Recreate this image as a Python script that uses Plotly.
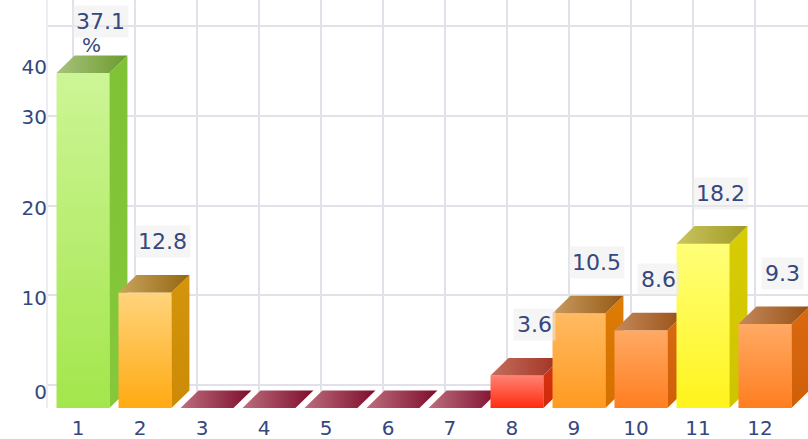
import plotly.graph_objects as go

# ---------------- data ----------------
categories = [1, 2, 3, 4, 5, 6, 7, 8, 9, 10, 11, 12]
cat_labels = ["1", "2", "3", "4", "5", "6", "7", "8", "9", "10", "11", "12"]
values = [37.1, 12.8, 0, 0, 0, 0, 0, 3.6, 10.5, 8.6, 18.2, 9.3]
value_labels = ["37.1", "12.8", "", "", "", "", "", "3.6", "10.5", "8.6", "18.2", "9.3"]
value_units = ["%", "", "", "", "", "", "", "", "", "", "", ""]
y_tick_labels = ["0", "10", "20", "30", "40"]
y_grid_vals = [0, 10, 20, 30, 40]

# ---------------- style ----------------
# (front top, front bottom, side top, side bottom, top-face left, top-face right)
palette = {
    "green":  ("#cdf596", "#a3e64c", "#7fc236", "#86c83c", "#a8c27c", "#6c9b2e"),
    "amber":  ("#ffd47c", "#ffaa12", "#d4940c", "#cc8a06", "#caa45e", "#94660f"),
    "maroon": ("#b86878", "#7e0c2c", "#7e0c2c", "#7e0c2c", "#bc6e7e", "#7e0c2c"),
    "red":    ("#ff8272", "#ff2c10", "#d83412", "#cc2a0a", "#c46e5e", "#a03020"),
    "orange": ("#ffba62", "#ff9a20", "#de7c04", "#d47000", "#c89c60", "#965812"),
    "orange2":("#ffaa64", "#ff7e20", "#da6a10", "#d06008", "#c4895c", "#985012"),
    "yellow": ("#ffff78", "#fff41c", "#d8cc04", "#cec400", "#cac464", "#a09a20"),
}
bar_colors = ["green", "amber", "maroon", "maroon", "maroon", "maroon", "maroon",
              "red", "orange", "orange2", "yellow", "orange2"]

TEXT_COLOR = "#34477f"
GRID_COLOR = "#e1e1ea"
FONT = "DejaVu Sans"

HALF_W = 0.427      # half bar width (category units)
DEPTH_X = 0.29      # 3D depth offset in category units
DEPTH_Y = 1.94      # 3D depth offset in value units

fig = go.Figure()


def face(xs, ys, c_lo, c_hi, orient):
    return go.Scatter(
        x=xs + [xs[0]], y=ys + [ys[0]], mode="lines", fill="toself",
        line=dict(width=0, color=c_hi),
        fillgradient=dict(type=orient, colorscale=[[0, c_lo], [1, c_hi]]),
        hoverinfo="skip", showlegend=False,
    )


for c, v, cname in zip(categories, values, bar_colors):
    ft, fb, st, sb, tl, tr = palette[cname]
    x0, x1 = c - HALF_W, c + HALF_W
    if v > 0:
        fig.add_trace(face([x0, x1, x1, x0], [0, 0, v, v], fb, ft, "vertical"))
        fig.add_trace(face([x1, x1 + DEPTH_X, x1 + DEPTH_X, x1],
                           [0, DEPTH_Y, v + DEPTH_Y, v], sb, st, "vertical"))
    fig.add_trace(face([x0, x1, x1 + DEPTH_X, x0 + DEPTH_X],
                       [v, v, v + DEPTH_Y, v + DEPTH_Y], tl, tr, "horizontal"))

# dummy traces to activate the back-wall and label axes
fig.add_trace(go.Scatter(x=[None], y=[None], xaxis="x2", yaxis="y2",
                         showlegend=False, hoverinfo="skip"))
fig.add_trace(go.Scatter(x=[None], y=[None], xaxis="x", yaxis="y3",
                         showlegend=False, hoverinfo="skip"))

# data labels
for c, v, lab, unit in zip(categories, values, value_labels, value_units):
    if not lab:
        continue
    fig.add_annotation(
        x=c + DEPTH_X, y=v + DEPTH_Y, xref="x", yref="y",
        text=lab, showarrow=False, yanchor="middle", yshift=34 if unit else 33,
        font=dict(family=FONT, size=22, color=TEXT_COLOR),
        bgcolor="rgba(236,236,236,0.5)", borderpad=3,
    )
    if unit:
        fig.add_annotation(
            x=c + DEPTH_X, y=v + DEPTH_Y, xref="x", yref="y",
            text=unit, showarrow=False, yanchor="middle", yshift=10, xshift=-9,
            font=dict(family=FONT, size=20, color=TEXT_COLOR), borderpad=0,
        )

# label positions for the y axis (back-wall units)
y_label_pos = [-0.8, 9.7, 19.7, 29.9, 35.4]

fig.update_layout(
    width=808, height=439,
    margin=dict(l=48, r=0, t=0, b=31),
    paper_bgcolor="white", plot_bgcolor="white",
    showlegend=False,
    xaxis=dict(range=[0.4355, 12.694], tickvals=categories, ticktext=cat_labels,
               showgrid=False, zeroline=False, showline=False, ticks="",
               ticklabelshift=-5, ticklabelstandoff=6,
               tickfont=dict(family=FONT, size=20, color=TEXT_COLOR), fixedrange=True),
    yaxis=dict(range=[0, 45.18], showgrid=False, zeroline=False,
               showticklabels=False, ticks="", showline=True,
               linecolor="#ececf2", linewidth=2),
    xaxis2=dict(overlaying="x", range=[0.0968, 12.355],
                tickvals=[k + 0.5 for k in range(13)], showticklabels=False,
                showgrid=True, gridcolor=GRID_COLOR, gridwidth=2,
                zeroline=False, ticks="", anchor="y2", side="top"),
    yaxis2=dict(overlaying="y", range=[-2.563, 42.897], tickvals=y_grid_vals,
                showticklabels=False, showgrid=True, gridcolor=GRID_COLOR,
                gridwidth=2, zeroline=False, ticks="", anchor="x2", side="right"),
    yaxis3=dict(overlaying="y", range=[-2.563, 42.897], tickvals=y_label_pos,
                ticktext=y_tick_labels, showgrid=False, zeroline=False, ticks="",
                anchor="x", side="left",
                tickfont=dict(family=FONT, size=20, color=TEXT_COLOR)),
)

fig.write_html(
    "out.html",
    config={"displayModeBar": False},
    post_script="document.body.style.margin='0';document.body.style.padding='0';",
)
